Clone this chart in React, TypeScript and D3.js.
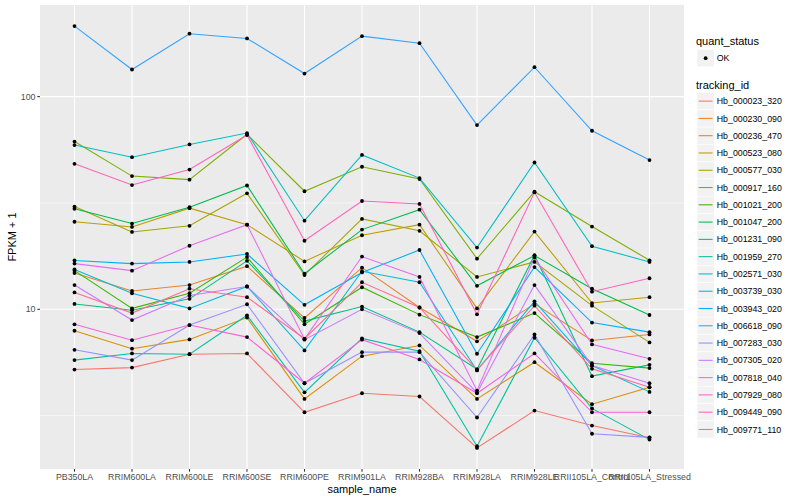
import * as d3 from "d3";

const samples = [
  "PB350LA", "RRIM600LA", "RRIM600LE", "RRIM600SE", "RRIM600PE", "RRIM901LA",
  "RRIM928BA", "RRIM928LA", "RRIM928LE", "RRII105LA_Control", "RRII105LA_Stressed",
];

const trackingIds = [
  "Hb_000023_320", "Hb_000230_090", "Hb_000236_470", "Hb_000523_080", "Hb_000577_030",
  "Hb_000917_160", "Hb_001021_200", "Hb_001047_200", "Hb_001231_090", "Hb_001959_270",
  "Hb_002571_030", "Hb_003739_030", "Hb_003943_020", "Hb_006618_090", "Hb_007283_030",
  "Hb_007305_020", "Hb_007818_040", "Hb_007929_080", "Hb_009449_090", "Hb_009771_110",
];

// ggplot hue palette, 20 levels
const colors = [
  "#F8766D", "#EA8331", "#D89000", "#C09B00", "#A3A500", "#7CAE00", "#39B600", "#00BB4E",
  "#00BF7D", "#00C1A3", "#00BFC4", "#00BAE0", "#00B0F6", "#35A2FF", "#9590FF", "#C77CFF",
  "#E76BF3", "#FA62DB", "#FF62BC", "#FF6C91",
];

// FPKM + 1 per sample, same order as samples
const Hb_000023_320 = [5.21, 5.32, 6.15, 6.2, 3.28, 4.03, 3.89, 2.23, 3.34, 2.84, 2.49];
const Hb_000230_090 = [14.8, 12.2, 13.0, 15.95, 9.1, 15.7, 10.2, 7.07, 10.6, 7.14, 7.62];
const Hb_000236_470 = [7.93, 6.53, 7.22, 9.14, 3.79, 6.02, 6.76, 3.79, 5.64, 3.58, 4.3];
const Hb_000523_080 = [25.8, 24.4, 29.9, 25.0, 16.8, 22.3, 25.0, 10.1, 23.2, 10.7, 11.4];
const Hb_000577_030 = [30.4, 23.1, 24.7, 35.1, 14.5, 26.6, 23.4, 14.2, 16.7, 10.4, 6.99];
const Hb_000917_160 = [61.5, 42.3, 40.7, 66.5, 35.9, 46.8, 41.0, 17.3, 35.7, 24.5, 17.0];
const Hb_001021_200 = [15.2, 10.1, 11.9, 17.6, 8.5, 12.7, 9.44, 7.4, 9.6, 5.58, 5.29];
const Hb_001047_200 = [29.7, 25.3, 30.2, 38.2, 14.7, 23.7, 29.4, 12.9, 17.9, 12.5, 9.4];
const Hb_001231_090 = [10.6, 9.9, 11.2, 16.9, 8.8, 10.3, 7.81, 5.23, 17.97, 4.85, 5.48];
const Hb_001959_270 = [5.77, 6.2, 6.15, 9.37, 4.07, 7.3, 6.36, 2.27, 7.35, 3.42, 2.44];
const Hb_002571_030 = [59.2, 51.9, 59.6, 67.4, 26.1, 53.2, 41.4, 19.5, 49.0, 19.8, 16.7];
const Hb_003739_030 = [15.4, 11.9, 10.1, 12.8, 6.41, 15.1, 13.4, 5.16, 10.9, 5.44, 4.09];
const Hb_003943_020 = [16.97, 16.4, 16.7, 18.2, 10.5, 14.9, 19.0, 6.18, 15.8, 8.66, 7.81];
const Hb_006618_090 = [214.6, 134.1, 197.6, 187.7, 128.4, 192.5, 178.4, 73.5, 137.5, 69.1, 50.3];
const Hb_007283_030 = [6.45, 5.77, 8.43, 10.56, 4.49, 6.29, 6.29, 3.1, 7.62, 2.6, 2.5];
const Hb_007305_020 = [13.0, 8.9, 11.6, 12.8, 7.2, 10.0, 7.73, 4.05, 13.0, 5.44, 4.49];
const Hb_007818_040 = [16.4, 15.2, 19.9, 25.0, 7.24, 17.7, 14.2, 4.15, 17.5, 6.84, 5.85];
const Hb_007929_080 = [8.5, 7.16, 8.43, 7.4, 4.49, 7.2, 5.81, 4.03, 6.2, 3.28, 3.28];
const Hb_009449_090 = [48.3, 38.4, 45.4, 66.0, 21.0, 32.3, 31.3, 9.47, 35.5, 12.1, 14.0];
const Hb_009771_110 = [12.0, 9.6, 12.5, 11.4, 7.27, 13.4, 10.2, 5.19, 10.4, 5.25, 4.3];

const seriesValues = [
  Hb_000023_320, Hb_000230_090, Hb_000236_470, Hb_000523_080, Hb_000577_030,
  Hb_000917_160, Hb_001021_200, Hb_001047_200, Hb_001231_090, Hb_001959_270,
  Hb_002571_030, Hb_003739_030, Hb_003943_020, Hb_006618_090, Hb_007283_030,
  Hb_007305_020, Hb_007818_040, Hb_007929_080, Hb_009449_090, Hb_009771_110,
];

const yTicks = [10, 100];
const yMinor = [Math.pow(10, 0.5), Math.pow(10, 1.5), Math.pow(10, 2.5)];

const W = 800;
const H = 500;
const margin = { left: 40, right: 116, top: 5, bottom: 31 };
const font = "'Liberation Sans', Arial, Helvetica, sans-serif";

export default function App() {
  const px0 = margin.left;
  const px1 = W - margin.right;
  const py0 = margin.top;
  const py1 = H - margin.bottom;

  const x = d3.scalePoint<string>().domain(samples).range([px0, px1]).padding(0.6);

  const all = seriesValues.flat();
  const [lo, hi] = d3.extent(all) as [number, number];
  const lLo = Math.log10(lo);
  const lHi = Math.log10(hi);
  const pad = (lHi - lLo) * 0.05;
  const y = d3
    .scaleLog()
    .domain([Math.pow(10, lLo - pad), Math.pow(10, lHi + pad)])
    .range([py1, py0]);

  const line = d3
    .line<number>()
    .x((_, i) => x(samples[i]) as number)
    .y((d) => y(d));

  const keyH = 17.28;
  const legX = 697;

  return (
    <svg
      width={W}
      height={H}
      style={{ position: "absolute", left: 0, top: 0, background: "#fff" }}
      fontFamily={font}
    >
      <rect x={0} y={0} width={W} height={H} fill="#fff" />
      {/* panel */}
      <rect x={px0} y={py0} width={px1 - px0} height={py1 - py0} fill="#EBEBEB" />
      {yMinor
        .filter((v) => y(v) >= py0 && y(v) <= py1)
        .map((v, i) => (
          <line key={"mn" + i} x1={px0} x2={px1} y1={y(v)} y2={y(v)} stroke="#fff" strokeWidth={0.53} />
        ))}
      {yTicks.map((v) => (
        <line key={"mj" + v} x1={px0} x2={px1} y1={y(v)} y2={y(v)} stroke="#fff" strokeWidth={1.07} />
      ))}
      {samples.map((s) => (
        <line key={"gx" + s} x1={x(s)} x2={x(s)} y1={py0} y2={py1} stroke="#fff" strokeWidth={1.07} />
      ))}

      {/* lines */}
      {seriesValues.map((vals, i) => (
        <path key={"l" + i} d={line(vals) || ""} fill="none" stroke={colors[i]} strokeWidth={1.07} />
      ))}
      {/* points */}
      {seriesValues.map((vals, i) =>
        vals.map((v, j) => (
          <circle key={"p" + i + "-" + j} cx={x(samples[j])} cy={y(v)} r={1.9} fill="#000" />
        ))
      )}

      {/* y axis */}
      {yTicks.map((v) => (
        <g key={"yt" + v}>
          <line x1={px0 - 2.7} x2={px0} y1={y(v)} y2={y(v)} stroke="#333" strokeWidth={1.07} />
          <text x={px0 - 4.5} y={y(v)} dy="0.35em" textAnchor="end" fontSize={8.8} fill="#4D4D4D">
            {v}
          </text>
        </g>
      ))}
      {/* x axis */}
      {samples.map((s) => (
        <g key={"xt" + s}>
          <line x1={x(s)} x2={x(s)} y1={py1} y2={py1 + 2.7} stroke="#333" strokeWidth={1.07} />
          <text x={x(s)} y={py1 + 11} textAnchor="middle" fontSize={8.8} fill="#4D4D4D">
            {s}
          </text>
        </g>
      ))}
      <text x={(px0 + px1) / 2} y={H - 7.5} textAnchor="middle" fontSize={11} fill="#000">
        sample_name
      </text>
      <text
        transform={`translate(16,${(py0 + py1) / 2}) rotate(-90)`}
        textAnchor="middle"
        fontSize={11}
        fill="#000"
      >
        FPKM + 1
      </text>

      {/* legend: quant_status */}
      <text x={legX - 1} y={45} fontSize={11} fill="#000">quant_status</text>
      <rect x={legX} y={49.5} width={keyH} height={keyH} fill="#F2F2F2" stroke="#fff" strokeWidth={0.5} />
      <circle cx={legX + keyH / 2} cy={49.5 + keyH / 2} r={1.9} fill="#000" />
      <text x={legX + keyH + 2.5} y={49.5 + keyH / 2} dy="0.35em" fontSize={8.8} fill="#000">OK</text>

      {/* legend: tracking_id */}
      <text x={legX - 1} y={88.5} fontSize={11} fill="#000">tracking_id</text>
      {trackingIds.map((id, i) => {
        const ky = 92.5 + i * keyH;
        return (
          <g key={"lg" + id}>
            <rect x={legX} y={ky} width={keyH} height={keyH} fill="#F2F2F2" stroke="#fff" strokeWidth={0.5} />
            <line
              x1={legX + 1.7}
              x2={legX + keyH - 1.7}
              y1={ky + keyH / 2}
              y2={ky + keyH / 2}
              stroke={colors[i]}
              strokeWidth={1.07}
            />
            <text x={legX + keyH + 2.5} y={ky + keyH / 2} dy="0.35em" fontSize={8.8} fill="#000">
              {id}
            </text>
          </g>
        );
      })}
    </svg>
  );
}
